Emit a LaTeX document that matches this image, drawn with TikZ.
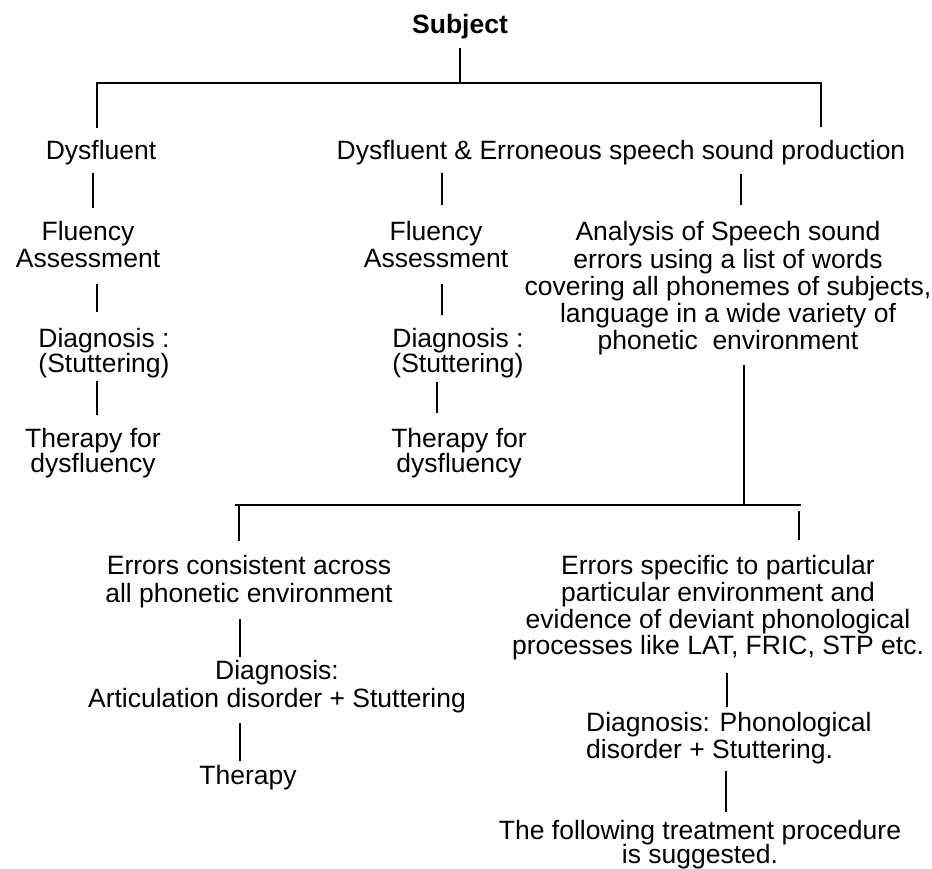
\documentclass[tikz,border=0pt]{standalone}
\usepackage{fontspec}
\setmainfont{Liberation Sans}
\begin{document}
\begin{tikzpicture}[x=1pt,y=-1pt,
  txt/.style={anchor=north, inner sep=0pt, align=center, font=\fontsize{26.5}{27}\selectfont},
  conn/.style={line width=1.8pt, line cap=butt}]
\fill[white] (0,0) rectangle (932,868);
\useasboundingbox (0,0) rectangle (932,868);

% ---------- nodes ----------
\node[txt, font=\fontsize{26.5}{27}\selectfont\bfseries] (subj) at (460,13.6) {\strut Subject\strut};
\node[txt] (dys)  at (101,139.6) {\strut Dysfluent\strut};
\node[txt] (dyse) at (621,139.6) {\strut Dysfluent \& Erroneous speech sound production\strut};

\node[txt] (fa1) at (88,220.6)  {\strut Fluency\\Assessment\strut};
\node[txt] (fa2) at (436,220.6) {\strut Fluency\\Assessment\strut};
\node[txt] (an)  at (728,220.6) {\strut Analysis of Speech sound\\errors using a list of words\\covering all phonemes of subjects,\\language in a wide variety of\\phonetic\ \ environment\strut};

\node[txt] (dg1) at (104,327.6) {\strut Diagnosis :\\[-3pt](Stuttering)\strut};
\node[txt] (dg2) at (458,327.6) {\strut Diagnosis :\\[-3pt](Stuttering)\strut};

\node[txt] (th1) at (93,427.6)  {\strut Therapy for\\[-3pt]dysfluency\strut};
\node[txt] (th2) at (459,427.6) {\strut Therapy for\\[-3pt]dysfluency\strut};

\node[txt] (ec)  at (249,554.6) {\strut Errors consistent across\\all phonetic environment\strut};
\node[txt] (dga) at (277,659.6) {\strut Diagnosis:\\Articulation disorder + Stuttering\strut};
\node[txt] (thr) at (248,764.6) {\strut Therapy\strut};

\node[txt] (es)  at (718,554.6) {\strut Errors specific to particular\\[-0.5pt]particular environment and\\[-0.5pt]evidence of deviant phonological\\[-0.5pt]processes like LAT, FRIC, STP etc.\strut};
\node[txt, anchor=north west, align=left] (dgp) at (586,711.6) {\strut Diagnosis: Phonological\\[-1pt]disorder + Stuttering.\strut};
\node[txt] (tr)  at (700,820) {\strut The following treatment procedure\\[-4pt]is suggested.\strut};

% ---------- junction coordinates ----------
\coordinate (J0) at (460,83);
\coordinate (JL) at (97,83);
\coordinate (JR) at (821,83);
\coordinate (J1) at (744,505);
\coordinate (BL) at (235,505);
\coordinate (BR) at (801,505);

% ---------- connectors ----------
\draw[conn, shorten <=6.4pt] (460,0 |- subj.south) -- (J0);
\draw[conn, shorten <=11.6pt, shorten >=12.6pt] (97,0 |- dys.north) -- (JL) -- (JR) -- (821,0 |- dyse.north);

\draw[conn, shorten <=5.4pt, shorten >=12.6pt] (93,0 |- dys.south) -- (93,0 |- fa1.north);
\draw[conn, shorten <=8.4pt, shorten >=15.6pt] (97,0 |- fa1.south) -- (97,0 |- dg1.north);
\draw[conn, shorten >=12.6pt] (97,0 |- dg1.south) -- (97,0 |- th1.north);

\draw[conn, shorten <=5.4pt, shorten >=15.6pt] (442,0 |- dyse.south) -- (442,0 |- fa2.north);
\draw[conn, shorten <=8.4pt, shorten >=12.6pt] (442,0 |- fa2.south) -- (442,0 |- dg2.north);
\draw[conn, shorten <=1.4pt, shorten >=14.6pt] (437,0 |- dg2.south) -- (437,0 |- th2.north);

\draw[conn, shorten <=6.4pt, shorten >=15.6pt] (741,0 |- dyse.south) -- (741,0 |- an.north);
\draw[conn, shorten <=7.4pt] (744,0 |- an.south) -- (J1);

\draw[conn] (BL) -- (BR);
\draw[conn, shorten >=13.6pt] (239,505) -- (239,0 |- ec.north);
\draw[conn, shorten <=6pt, shorten >=14.6pt] (799,505) -- (799,0 |- es.north);

\draw[conn, shorten <=8.4pt, shorten >=2.6pt] (240,0 |- ec.south) -- (240,0 |- dga.north);
\draw[conn, shorten <=7.4pt, shorten >=3.6pt] (240,0 |- dga.south) -- (240,0 |- thr.north);

\draw[conn, shorten <=9.9pt, shorten >=4.6pt] (727,0 |- es.south) -- (727,0 |- dgp.north);
\draw[conn, shorten <=4.4pt, shorten >=7.6pt] (726,0 |- dgp.south) -- (726,0 |- tr.north);
\end{tikzpicture}
\end{document}
